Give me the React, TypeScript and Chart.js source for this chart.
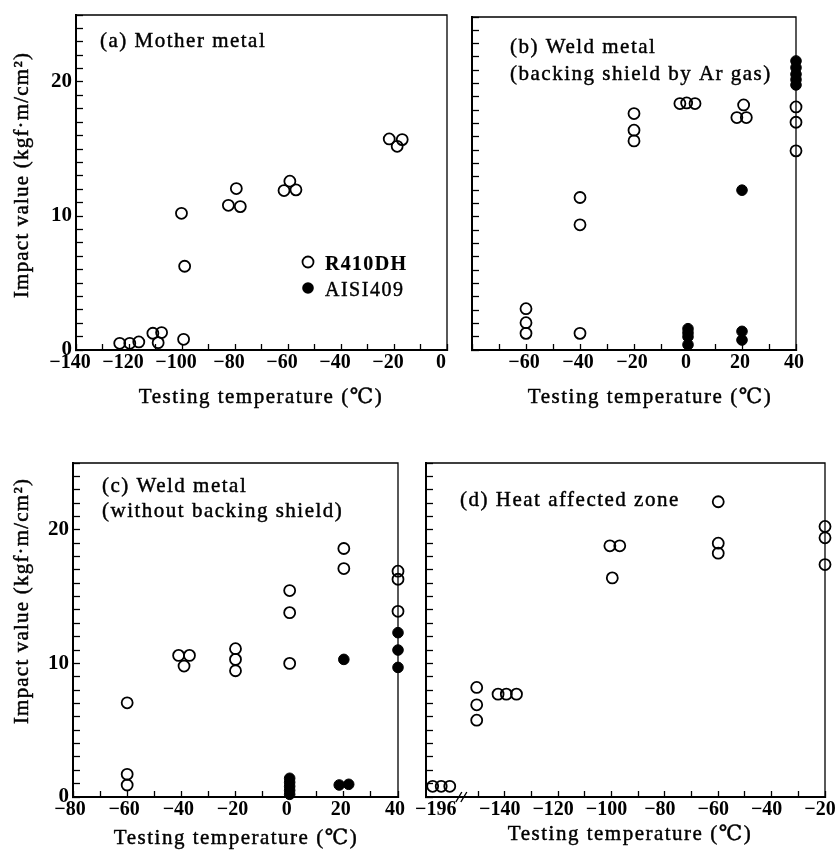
import React, { useEffect, useRef } from 'react';
import { Chart, registerables } from 'chart.js';

Chart.register(...registerables);

// ---------- shared text ----------
const SERIES = ['R410DH', 'AISI409'];
const X_TITLE = 'Testing temperature (℃)';
const Y_TITLE = 'Impact value (kgf·m/cm²)';
const Y_LABELED = [0, 10, 20];
const Y_MIN = 0;
const Y_MAX = 25;

// ---------- (a) Mother metal ----------
const aTitle = ['(a) Mother metal'];
const aOpenX = [-123.5, -119.7, -116.3, -111, -107.7, -109, -99.4, -100.2, -99, -82.5, -79.5, -78, -61.5, -59.3, -57, -21.8, -18.8, -16.9];
const aOpenY = [0.5, 0.5, 0.6, 1.25, 1.3, 0.55, 0.8, 10.2, 6.25, 10.8, 12.05, 10.7, 11.9, 12.6, 11.95, 15.75, 15.2, 15.7];
const aFilledX: number[] = [];
const aFilledY: number[] = [];
const aXLabels = [-140, -120, -100, -80, -60, -40, -20, 0];

// ---------- (b) Weld metal, backing shield by Ar gas ----------
const bTitle = ['(b) Weld metal', '(backing shield by Ar gas)'];
const bOpenX = [-60, -60, -60, -40, -40, -40, -20, -20, -20, -3, -0.5, 2.6, 20.6, 18.1, 21.6, 40, 40, 40];
const bOpenY = [3.1, 2.05, 1.25, 11.45, 9.4, 1.25, 17.75, 16.5, 15.7, 18.5, 18.55, 18.5, 18.4, 17.45, 17.45, 18.25, 17.1, 14.95];
const bFilledX = [0, 0, 0, 0, 20, 20, 20, 40, 40, 40, 40, 40];
const bFilledY = [1.6, 1.3, 1.0, 0.4, 12.0, 1.4, 0.75, 21.7, 21.2, 20.7, 20.3, 19.9];
const bXLabels = [-60, -40, -20, 0, 20, 40];

// ---------- (c) Weld metal, without backing shield ----------
const cTitle = ['(c) Weld metal', '(without backing shield)'];
const cOpenX = [-60, -60, -60, -41, -39, -37, -20, -20, -20, 0, 0, 0, 20, 20, 40, 40, 40];
const cOpenY = [7.05, 1.7, 0.9, 10.6, 9.8, 10.6, 11.1, 10.3, 9.45, 15.45, 13.8, 10.0, 18.6, 17.1, 16.9, 16.3, 13.9];
const cFilledX = [0, 0, 0, 0, 0, 18.3, 21.8, 20, 40, 40, 40];
const cFilledY = [1.4, 1.1, 0.8, 0.5, 0.2, 0.9, 0.95, 10.3, 12.3, 11.0, 9.7];
const cXLabels = [-80, -60, -40, -20, 0, 20, 40];

// ---------- (d) Heat affected zone ----------
const dTitle = ['(d) Heat affected zone'];
const dBrokenTemp = -196;
const dOpenX = [-199, -195.8, -192.6, -150.5, -150.5, -150.5, -142.5, -139.4, -135.6, -100.6, -96.9, -99.7, -60, -60, -60, -20, -20, -20];
const dOpenY = [0.8, 0.8, 0.8, 8.2, 6.9, 5.75, 7.7, 7.7, 7.7, 18.8, 18.8, 16.4, 22.1, 19.0, 18.25, 20.25, 19.4, 17.4];
const dFilledX: number[] = [];
const dFilledY: number[] = [];
const dXLabels = [-140, -120, -100, -80, -60, -40, -20];

// ---------- styling ----------
const SERIF = '"Liberation Serif", "DejaVu Serif", serif';
const BREAK_AT = -164; // axis position where the -196 group is shown
const BREAK_MARK = -155.7;

const fmt = (v: number) => (v < 0 ? '−' + Math.abs(v) : String(v));
const range = (a: number, b: number, s: number) => {
  const out: number[] = [];
  for (let v = a; v <= b + 1e-9; v += s) out.push(Math.round(v * 1000) / 1000);
  return out;
};

type Panel = {
  key: string;
  box: { left: number; top: number; width: number; height: number };
  area: { left: number; top: number; right: number; bottom: number };
  xMin: number;
  xMax: number;
  xTicks: number[];
  xLabels: number[];
  xLabelOffset: number;
  openX: number[];
  openY: number[];
  filledX: number[];
  filledY: number[];
  title: string[];
  titlePos: { x: number; y: number; gap: number };
  xTitlePos: { x: number; y: number };
  yTitlePos?: { x: number; y: number };
  showYLabels: boolean;
  legendPos?: { x: number; y: number; gap: number };
  broken?: boolean;
};

const mapD = (t: number) => (t < -170 ? BREAK_AT + (t - dBrokenTemp) : t);

const panels: Panel[] = [
  {
    key: 'a',
    box: { left: 0, top: 0, width: 460, height: 420 },
    area: { left: 76, top: 15, right: 447, bottom: 350 },
    xMin: -140, xMax: 0, xTicks: range(-140, 0, 10), xLabels: aXLabels, xLabelOffset: -6,
    openX: aOpenX, openY: aOpenY, filledX: aFilledX, filledY: aFilledY,
    title: aTitle, titlePos: { x: 100, y: 47, gap: 27 },
    xTitlePos: { x: 261, y: 403 },
    yTitlePos: { x: 22, y: 175 },
    showYLabels: true,
    legendPos: { x: 308, y: 262, gap: 26 },
  },
  {
    key: 'b',
    box: { left: 455, top: 0, width: 380, height: 420 },
    area: { left: 17, top: 17, right: 341, bottom: 350 },
    xMin: -80, xMax: 40, xTicks: range(-80, 40, 10), xLabels: bXLabels, xLabelOffset: -2,
    openX: bOpenX, openY: bOpenY, filledX: bFilledX, filledY: bFilledY,
    title: bTitle, titlePos: { x: 55, y: 53, gap: 27 },
    xTitlePos: { x: 195, y: 403 },
    showYLabels: false,
  },
  {
    key: 'c',
    box: { left: 0, top: 425, width: 415, height: 428 },
    area: { left: 73, top: 38, right: 398, bottom: 372 },
    xMin: -80, xMax: 40, xTicks: range(-80, 40, 10), xLabels: cXLabels, xLabelOffset: -3,
    openX: cOpenX, openY: cOpenY, filledX: cFilledX, filledY: cFilledY,
    title: cTitle, titlePos: { x: 102, y: 67, gap: 25 },
    xTitlePos: { x: 236, y: 419 },
    yTitlePos: { x: 22, y: 176 },
    showYLabels: true,
  },
  {
    key: 'd',
    box: { left: 415, top: 425, width: 420, height: 428 },
    area: { left: 11, top: 38, right: 410, bottom: 372 },
    xMin: -169.5, xMax: -20, xTicks: [BREAK_AT, ...range(-150, -20, 10)], xLabels: dXLabels, xLabelOffset: -5,
    openX: dOpenX.map(mapD), openY: dOpenY, filledX: dFilledX.map(mapD), filledY: dFilledY,
    title: dTitle, titlePos: { x: 45, y: 81, gap: 27 },
    xTitlePos: { x: 215, y: 415 },
    showYLabels: false,
    broken: true,
  },
];

function drawText(
  ctx: CanvasRenderingContext2D,
  text: string,
  x: number,
  y: number,
  font: string,
  spacing: number,
  align: CanvasTextAlign = 'left',
  rotate = 0,
  embolden = 0.45,
) {
  ctx.save();
  ctx.font = font;
  (ctx as any).letterSpacing = spacing + 'px';
  ctx.fillStyle = '#000';
  ctx.strokeStyle = '#000';
  ctx.lineWidth = embolden;
  ctx.lineJoin = 'round';
  ctx.textAlign = align;
  ctx.textBaseline = rotate ? 'middle' : 'alphabetic';
  ctx.translate(x, y);
  if (rotate) ctx.rotate(rotate);
  ctx.fillText(text, 0, 0);
  if (embolden > 0) ctx.strokeText(text, 0, 0);
  ctx.restore();
}

function decorPlugin(p: Panel) {
  return {
    id: 'decor_' + p.key,
    beforeDatasetsDraw(chart: any) {
      const { ctx, chartArea: a } = chart;
      ctx.save();
      ctx.strokeStyle = '#000';
      ctx.lineWidth = 1.3;
      ctx.beginPath();
      ctx.moveTo(a.left, a.top);
      ctx.lineTo(a.right, a.top);
      ctx.lineTo(a.right, a.bottom);
      ctx.stroke();
      if (p.broken) {
        const xs = chart.scales.x;
        const px = xs.getPixelForValue(BREAK_MARK);
        const y = a.bottom;
        ctx.lineWidth = 1.4;
        ctx.beginPath();
        ctx.moveTo(px - 7, y + 5);
        ctx.lineTo(px - 1, y - 5);
        ctx.moveTo(px - 2, y + 5);
        ctx.lineTo(px + 4, y - 5);
        ctx.stroke();
      }
      ctx.restore();
    },
    afterDraw(chart: any) {
      const ctx: CanvasRenderingContext2D = chart.ctx;
      const tf = `21px ${SERIF}`;
      p.title.forEach((line, i) => {
        drawText(ctx, line, p.titlePos.x, p.titlePos.y + i * p.titlePos.gap, tf, 1.5);
      });
      drawText(ctx, X_TITLE, p.xTitlePos.x, p.xTitlePos.y, tf, 1.5, 'center');
      if (p.yTitlePos) {
        drawText(ctx, Y_TITLE, p.yTitlePos.x, p.yTitlePos.y, tf, 1.2, 'center', -Math.PI / 2);
      }
      if (p.legendPos) {
        const { x, y, gap } = p.legendPos;
        ctx.save();
        ctx.strokeStyle = '#000';
        ctx.fillStyle = '#000';
        ctx.lineWidth = 1.8;
        ctx.beginPath();
        ctx.arc(x, y, 5.5, 0, Math.PI * 2);
        ctx.stroke();
        ctx.beginPath();
        ctx.arc(x, y + gap, 5.8, 0, Math.PI * 2);
        ctx.fill();
        ctx.restore();
        drawText(ctx, SERIES[0], x + 17, y + 8, `bold 20px ${SERIF}`, 1.3, 'left', 0, 0.2);
        drawText(ctx, SERIES[1], x + 17, y + gap + 8, `20px ${SERIF}`, 1.5);
      }
    },
  };
}

function resetPadding(s: any) {
  s.paddingTop = 0;
  s.paddingBottom = 0;
  s.paddingLeft = 0;
  s.paddingRight = 0;
}

function makeChart(canvas: HTMLCanvasElement, p: Panel) {
  const W = p.box.width;
  const H = p.box.height;
  const a = p.area;
  const yTicks = range(Y_MIN, Y_MAX, 1);
  return new Chart(canvas, {
    type: 'scatter',
    data: {
      datasets: [
        {
          label: SERIES[0],
          data: p.openX.map((x, i) => ({ x, y: p.openY[i] })),
          pointRadius: 5.5,
          pointHoverRadius: 5.5,
          pointBorderWidth: 1.8,
          pointBorderColor: '#000',
          pointBackgroundColor: 'rgba(0,0,0,0)',
          clip: false as any,
        },
        {
          label: SERIES[1],
          data: p.filledX.map((x, i) => ({ x, y: p.filledY[i] })),
          pointRadius: 5.3,
          pointHoverRadius: 5.3,
          pointBorderWidth: 1,
          pointBorderColor: '#000',
          pointBackgroundColor: '#000',
          clip: false as any,
        },
      ],
    },
    options: {
      animation: false,
      responsive: false,
      devicePixelRatio: 1,
      events: [],
      layout: {
        autoPadding: false,
        padding: { left: 0, top: a.top, right: W - a.right, bottom: 0 },
      },
      plugins: {
        legend: { display: false },
        tooltip: { enabled: false },
        title: { display: false },
      },
      scales: {
        x: {
          type: 'linear',
          min: p.xMin,
          max: p.xMax,
          afterFit: (s: any) => {
            s.height = H - a.bottom;
            resetPadding(s);
          },
          afterBuildTicks: (s: any) => {
            s.ticks = p.xTicks.map((v) => ({ value: v }));
          },
          grid: {
            drawOnChartArea: false,
            drawTicks: true,
            tickLength: -6,
            tickWidth: 1.3,
            tickColor: (c: any) => (c.tick && c.tick.value === BREAK_AT ? 'rgba(0,0,0,0)' : '#000'),
          },
          border: { display: true, color: '#000', width: 2 },
          ticks: {
            autoSkip: false,
            maxRotation: 0,
            minRotation: 0,
            padding: 7,
            labelOffset: p.xLabelOffset,
            color: '#000',
            font: { family: SERIF, size: 20, weight: 'bold' },
            callback: (v: any) => {
              const n = Number(v);
              if (p.broken && n === BREAK_AT) return fmt(dBrokenTemp);
              return p.xLabels.includes(n) ? fmt(n) : '';
            },
          },
        },
        y: {
          type: 'linear',
          min: Y_MIN,
          max: Y_MAX,
          afterFit: (s: any) => {
            s.width = a.left;
            resetPadding(s);
          },
          afterBuildTicks: (s: any) => {
            s.ticks = yTicks.map((v) => ({ value: v }));
          },
          grid: {
            drawOnChartArea: false,
            drawTicks: true,
            tickLength: -7,
            tickWidth: 1.3,
            tickColor: '#000',
          },
          border: { display: true, color: '#000', width: 2 },
          ticks: {
            autoSkip: false,
            padding: 11,
            color: '#000',
            font: { family: SERIF, size: 21, weight: 'bold' },
            callback: (v: any) => (p.showYLabels && Y_LABELED.includes(Number(v)) ? String(v) : ''),
          },
        },
      },
    },
    plugins: [decorPlugin(p)],
  } as any);
}

function PanelChart({ p }: { p: Panel }) {
  const ref = useRef<HTMLCanvasElement | null>(null);
  useEffect(() => {
    if (!ref.current) return;
    const chart = makeChart(ref.current, p);
    return () => chart.destroy();
  }, [p]);
  return (
    <canvas
      ref={ref}
      width={p.box.width}
      height={p.box.height}
      style={{
        position: 'absolute',
        left: p.box.left,
        top: p.box.top,
        width: p.box.width,
        height: p.box.height,
      }}
    />
  );
}

export default function App() {
  return (
    <div
      style={{
        position: 'absolute',
        left: 0,
        top: 0,
        width: 835,
        height: 853,
        background: '#fff',
        overflow: 'hidden',
      }}
    >
      {panels.map((p) => (
        <PanelChart key={p.key} p={p} />
      ))}
    </div>
  );
}
